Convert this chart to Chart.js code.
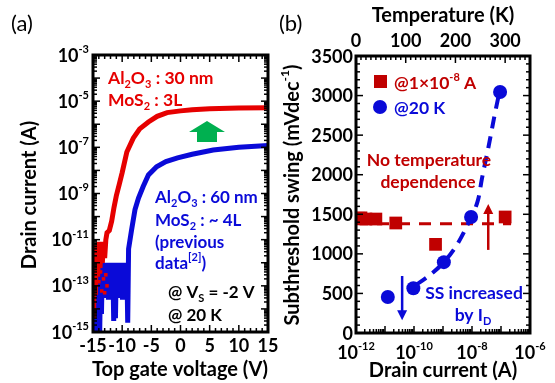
<!DOCTYPE html>
<html>
<head>
<meta charset="utf-8">
<script src="https://cdn.jsdelivr.net/npm/chart.js@4"></script>
<style>
  body { margin: 0; background: #fff; }
  #wrap { position: relative; width: 555px; height: 383px; }
  canvas { position: absolute; top: 0; }
</style>
</head>
<body>
<div id="wrap">
  <canvas id="chartA" width="280" height="383" style="left:0px"></canvas>
  <canvas id="chartB" width="275" height="383" style="left:280px"></canvas>
</div>
<script>
const FONT = 'Lato, "Open Sans", sans-serif';
const RED = '#e60000';
const BLUE = '#0a0ad8';
const DARKRED = '#c00000';
const GREEN = '#00b050';
const TICK = 18;   // tick label size
const TITLE = 20;  // axis title size
const NOTE = 17.5; // annotation size

// ---- (a) transfer curves: drain current vs top gate voltage ----
const redGateV = [-15.0, -14.9, -14.8, -14.6, -14.4, -14.2, -14.0, -13.8, -13.6, -13.4, -13.2, -13.0, -12.8, -12.6,
  -12.2, -11.8, -11.4, -11.0, -10.5, -10.0, -9.2, -8.1, -7.0, -5.5, -4.0, -2.3, 0, 2, 5, 10, 15];
const redCurrent = [5e-12, 4e-15, 2.5e-12, 4e-14, 6e-12, 2.5e-13, 8e-12, 6e-13, 5e-12, 1e-12, 8e-12, 1.6e-12, 1e-11, 2e-11,
  2.5e-11, 6.3e-11, 2.5e-10, 8e-10, 2.5e-9, 8e-9, 6.3e-8, 2.5e-7, 6.3e-7, 1.25e-6, 2.2e-6, 3.2e-6, 3.8e-6, 4.2e-6, 4.7e-6, 5e-6, 5.2e-6];
// scattered off-state points of the red device
const redDotV = [-14.9, -14.8, -14.7, -14.5, -14.2, -14.0, -13.7, -13.5, -13.2, -13.0, -12.8, -12.6, -14.6, -13.9, -13.3];
const redDotI = [2e-14, 1e-14, 3e-13, 8e-14, 2e-12, 1.5e-13, 4e-13, 6e-14, 2e-13, 5e-14, 3e-13, 1e-13, 1e-12, 3e-12, 1.5e-12];

const blueGateV = [-14.6, -14.45, -14.3, -14.15, -14.0, -13.85, -13.7, -13.55, -13.4, -13.25, -13.1, -12.95, -12.8, -12.65,
  -12.5, -12.35, -12.2, -12.05, -11.9, -11.75, -11.6, -11.45, -11.3, -11.15, -11.0, -10.85, -10.7, -10.55, -10.4, -10.25,
  -10.1, -9.95, -9.8, -9.65, -9.5, -9.35, -9.2, -9.05, -8.9, -8.4, -7.8, -7.2, -6.4, -5.5, -4.1, -2.5, -0.5, 2, 5.6, 10, 15];
const blueCurrent = [8e-13, 1e-15, 6e-13, 1.6e-15, 1e-12, 1e-15, 5e-13, 6e-15, 8e-13, 4e-14, 1e-12, 3e-14, 6e-13, 5e-14,
  1e-12, 2.5e-14, 8e-13, 6e-14, 1e-12, 3e-14, 6e-13, 3e-15, 1e-12, 4e-15, 8e-13, 4e-14, 1e-12, 3e-14, 8e-13, 6e-14,
  1e-12, 2.5e-14, 8e-13, 5e-14, 1e-12, 4e-14, 1e-12, 2.5e-15, 4e-12, 2.5e-11, 2e-10, 6.3e-10, 2e-9, 6.3e-9, 1.45e-8,
  2.4e-8, 3.5e-8, 5e-8, 7.6e-8, 1e-7, 1.2e-7];

const aTicksV = [-15, -10, -5, 0, 5, 10, 15];
const aTickExp = [-3, -5, -7, -9, -11, -13, -15];

// ---- (b) subthreshold swing ----
const redTemp = [5, 10, 20, 40, 80, 160, 300];       // K, top axis
const redSS = [1450, 1455, 1440, 1440, 1390, 1120, 1466];
const guideTemp = [0, 312];
const guideSS = [1380, 1380];
const blueID = [1.25e-11, 9.5e-11, 1.07e-9, 9.3e-9, 9.3e-8]; // A, bottom axis
const blueSS = [455, 565, 895, 1465, 3045];
const fitID = [1.2e-10, 3.2e-10, 1.07e-9, 3.2e-9, 9.3e-9, 1.66e-8, 2.2e-8, 3.7e-8, 6e-8, 8.3e-8];
const fitSS = [610, 720, 895, 1130, 1465, 1700, 1950, 2350, 2750, 3000];

const bTicksSS = [0, 500, 1000, 1500, 2000, 2500, 3000, 3500];
const bTickExp = [-12, -10, -8, -6];
const bTicksT = [0, 100, 200, 300];

function pts(xs, ys) {
  return xs.map((v, i) => ({ x: v, y: ys[i] }));
}

function line(ctx, x1, y1, x2, y2) {
  ctx.beginPath();
  ctx.moveTo(x1, y1);
  ctx.lineTo(x2, y2);
  ctx.stroke();
}

// text with sub/superscript parts: 'plain' or ['txt', 'sup'|'sub']
function rich(ctx, x, y, parts, size, color, align) {
  const segs = parts.map(p => typeof p === 'string' ? { t: p, m: '' } : { t: p[0], m: p[1] });
  let w = 0;
  segs.forEach(s => {
    s.size = s.m ? Math.round(size * 0.62) : size;
    ctx.font = `bold ${s.size}px ${FONT}`;
    s.w = ctx.measureText(s.t).width;
    w += s.w;
  });
  let cx = align === 'center' ? x - w / 2 : align === 'right' ? x - w : x;
  ctx.fillStyle = color;
  ctx.textAlign = 'left';
  ctx.textBaseline = 'alphabetic';
  segs.forEach(s => {
    ctx.font = `bold ${s.size}px ${FONT}`;
    const dy = s.m === 'sup' ? -size * 0.48 : s.m === 'sub' ? size * 0.22 : 0;
    ctx.fillText(s.t, cx, y + dy);
    cx += s.w;
  });
}

function arrow(ctx, x, y1, y2, color) {
  // shaft from y1 to tip y2
  const dir = y2 < y1 ? -1 : 1;
  ctx.strokeStyle = color;
  ctx.fillStyle = color;
  ctx.lineWidth = 2.5;
  line(ctx, x, y1, x, y2 - dir * 8);
  ctx.beginPath();
  ctx.moveTo(x, y2);
  ctx.lineTo(x - 5, y2 - dir * 10);
  ctx.lineTo(x + 5, y2 - dir * 10);
  ctx.closePath();
  ctx.fill();
}

function logTicks(scale, ctx, lo, hi, a) {
  for (let e = lo; e < hi; e++) {
    for (let m = 1; m < 10; m++) {
      const p = scale.getPixelForValue(m * Math.pow(10, e));
      const len = m === 1 ? 7 : 4;
      line(ctx, a.left, p, a.left + len, p);
      line(ctx, a.right, p, a.right - len, p);
    }
  }
}

const panelA = {
  id: 'panelA',
  afterDraw(chart) {
    const { ctx, chartArea: a, scales: { x, y } } = chart;
    ctx.save();
    ctx.strokeStyle = '#000';
    ctx.lineWidth = 1.5;
    for (let v = -15; v <= 15; v++) {
      const p = x.getPixelForValue(v);
      const len = v % 5 === 0 ? 7 : 4;
      line(ctx, p, a.top, p, a.top + len);
      line(ctx, p, a.bottom, p, a.bottom - len);
    }
    logTicks(y, ctx, -15, -3, a);
    ctx.lineWidth = 3;
    ctx.strokeRect(a.left, a.top, a.right - a.left, a.bottom - a.top);

    // tick labels
    aTickExp.forEach(e => {
      const p = y.getPixelForValue(Math.pow(10, e));
      rich(ctx, 89, p + 6.5, ['10', [String(e), 'sup']], TICK, '#000', 'right');
    });
    aTicksV.forEach(v => {
      rich(ctx, x.getPixelForValue(v), 351.5, [String(v)], TICK, '#000', 'center');
    });
    rich(ctx, 180, 376, ['Top gate voltage (V)'], TITLE, '#000', 'center');
    ctx.save();
    ctx.translate(29, 195);
    ctx.rotate(-Math.PI / 2);
    rich(ctx, 0, 7, ['Drain current (A)'], TITLE, '#000', 'center');
    ctx.restore();

    ctx.font = `22px ${FONT}`;
    ctx.fillStyle = '#000';
    ctx.textAlign = 'left';
    ctx.fillText('(a)', 11, 31);

    // annotations
    rich(ctx, 108, 84, ['Al', ['2', 'sub'], 'O', ['3', 'sub'], ' : 30 nm'], NOTE, RED, 'left');
    rich(ctx, 108, 106, ['MoS', ['2', 'sub'], ' : 3L'], NOTE, RED, 'left');
    rich(ctx, 155, 203, ['Al', ['2', 'sub'], 'O', ['3', 'sub'], ' : 60 nm'], 17, BLUE, 'left');
    rich(ctx, 155, 226, ['MoS', ['2', 'sub'], ' : ~ 4L'], 17, BLUE, 'left');
    rich(ctx, 155, 248, ['(previous'], 17, BLUE, 'left');
    rich(ctx, 155, 269, ['data', ['[2]', 'sup'], ')'], 17, BLUE, 'left');
    rich(ctx, 168, 298, ['@ V', ['S', 'sub'], ' = -2 V'], 17, '#000', 'left');
    rich(ctx, 168, 321, ['@ 20 K'], 17, '#000', 'left');

    // green arrow
    ctx.fillStyle = GREEN;
    ctx.beginPath();
    ctx.moveTo(207, 121);
    ctx.lineTo(225, 132);
    ctx.lineTo(217, 132);
    ctx.lineTo(217, 142);
    ctx.lineTo(197, 142);
    ctx.lineTo(197, 132);
    ctx.lineTo(189, 132);
    ctx.closePath();
    ctx.fill();
    ctx.restore();
  }
};

const panelB = {
  id: 'panelB',
  afterDraw(chart) {
    const { ctx, chartArea: a, scales: { x, xT, y } } = chart;
    ctx.save();
    ctx.strokeStyle = '#000';
    ctx.lineWidth = 1.5;
    for (let v = 0; v <= 3500; v += 100) {
      const p = y.getPixelForValue(v);
      const len = v % 500 === 0 ? 7 : 4;
      line(ctx, a.left, p, a.left + len, p);
      line(ctx, a.right, p, a.right - len, p);
    }
    for (let t = 0; t <= 350; t += 10) {
      const p = xT.getPixelForValue(t);
      line(ctx, p, a.top, p, a.top + (t % 100 === 0 ? 7 : 4));
    }
    for (let e = -12; e < -6; e++) {
      for (let m = 1; m < 10; m++) {
        const p = x.getPixelForValue(m * Math.pow(10, e));
        line(ctx, p, a.bottom, p, a.bottom - (m === 1 ? 7 : 4));
      }
    }
    ctx.lineWidth = 3;
    ctx.strokeRect(a.left, a.top, a.right - a.left, a.bottom - a.top);

    bTicksSS.forEach(v => {
      rich(ctx, 73, y.getPixelForValue(v) + 6.5, [String(v)], TICK, '#000', 'right');
    });
    bTickExp.forEach(e => {
      rich(ctx, x.getPixelForValue(Math.pow(10, e)), 358.5, ['10', [String(e), 'sup']], TICK, '#000', 'center');
    });
    bTicksT.forEach(t => {
      rich(ctx, xT.getPixelForValue(t), 46.5, [String(t)], TICK, '#000', 'center');
    });
    rich(ctx, 163, 22, ['Temperature (K)'], TITLE, '#000', 'center');
    rich(ctx, 163, 377, ['Drain current (A)'], TITLE, '#000', 'center');
    ctx.save();
    ctx.translate(12, 195);
    ctx.rotate(-Math.PI / 2);
    rich(ctx, 0, 7, ['Subthreshold swing (mVdec', ['-1', 'sup'], ')'], TITLE, '#000', 'center');
    ctx.restore();

    ctx.font = `22px ${FONT}`;
    ctx.fillStyle = '#000';
    ctx.textAlign = 'left';
    ctx.fillText('(b)', -1, 31);

    // legend
    ctx.fillStyle = DARKRED;
    ctx.fillRect(94, 75, 13, 13);
    rich(ctx, 114, 89, ['@1\u00d710', ['-8', 'sup'], ' A'], NOTE, DARKRED, 'left');
    ctx.fillStyle = BLUE;
    ctx.beginPath();
    ctx.arc(100, 107, 7, 0, Math.PI * 2);
    ctx.fill();
    rich(ctx, 114, 114, ['@20 K'], NOTE, BLUE, 'left');

    rich(ctx, 149, 166, ['No temperature'], NOTE, DARKRED, 'center');
    rich(ctx, 148, 188, ['dependence'], NOTE, DARKRED, 'center');
    rich(ctx, 194, 299, ['SS increased'], NOTE, BLUE, 'center');
    rich(ctx, 193, 321, ['by I', ['D', 'sub']], NOTE, BLUE, 'center');

    // arrows
    arrow(ctx, xT.getPixelForValue(266), y.getPixelForValue(1050), y.getPixelForValue(1630), DARKRED);
    arrow(ctx, x.getPixelForValue(3.9e-11), y.getPixelForValue(720), y.getPixelForValue(160), BLUE);
    ctx.restore();
  }
};

new Chart(document.getElementById('chartA'), {
  type: 'line',
  data: {
    datasets: [
      { data: pts(redDotV, redDotI), showLine: false, pointStyle: 'rect', pointRadius: 2.5, backgroundColor: RED, borderWidth: 0 },
      { data: pts(redGateV, redCurrent), borderColor: RED, borderWidth: 5, pointRadius: 0, tension: 0 },
      { data: pts(blueGateV, blueCurrent), borderColor: BLUE, borderWidth: 5, pointRadius: 0, tension: 0 }
    ]
  },
  options: {
    responsive: false,
    animation: false,
    layout: { padding: { left: 93, right: 12, top: 55, bottom: 51 } },
    plugins: { legend: { display: false }, tooltip: { enabled: false } },
    scales: {
      x: { type: 'linear', min: -15, max: 15, display: false },
      y: { type: 'logarithmic', min: 1e-15, max: 1e-3, display: false }
    }
  },
  plugins: [panelA]
});

new Chart(document.getElementById('chartB'), {
  type: 'line',
  data: {
    datasets: [
      { data: pts(blueID, blueSS), xAxisID: 'x', showLine: false, pointStyle: 'circle', pointRadius: 7,
        backgroundColor: BLUE, borderWidth: 0 },
      { data: pts(redTemp, redSS), xAxisID: 'xT', showLine: false, pointStyle: 'rect', pointRadius: 9,
        backgroundColor: DARKRED, borderWidth: 0 },
      { data: pts(fitID, fitSS), xAxisID: 'x', borderColor: BLUE, borderWidth: 4, borderDash: [12, 8],
        pointRadius: 0, cubicInterpolationMode: 'monotone' },
      { data: pts(guideTemp, guideSS), xAxisID: 'xT', borderColor: DARKRED, borderWidth: 3, borderDash: [12, 9],
        pointRadius: 0 }
    ]
  },
  options: {
    responsive: false,
    animation: false,
    layout: { padding: { left: 76, right: 25, top: 56, bottom: 50 } },
    plugins: { legend: { display: false }, tooltip: { enabled: false } },
    scales: {
      x: { type: 'logarithmic', min: 1e-12, max: 1e-6, display: false },
      xT: { type: 'linear', min: 0, max: 350, display: false },
      y: { type: 'linear', min: 0, max: 3500, display: false }
    }
  },
  plugins: [panelB]
});
</script>
</body>
</html>
